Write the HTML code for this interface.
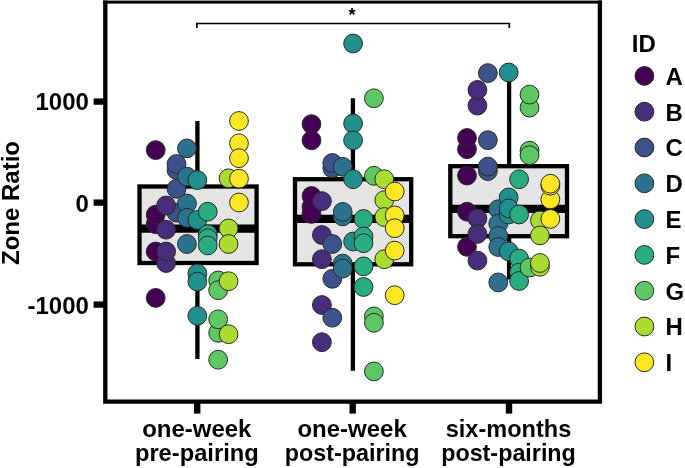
<!DOCTYPE html>
<html><head><meta charset="utf-8"><title>Zone Ratio</title>
<style>html,body{margin:0;padding:0;background:#fff}svg{display:block}text{font-family:"Liberation Sans",Arial,Helvetica,sans-serif;font-weight:bold;fill:#000}</style></head><body>
<svg width="685" height="468" viewBox="0 0 685 468">
<rect width="685" height="468" fill="#fff"/>
<line x1="197.4" y1="121" x2="197.4" y2="186.5" stroke="#000" stroke-width="4.3"/>
<line x1="197.4" y1="263" x2="197.4" y2="359" stroke="#000" stroke-width="4.3"/>
<rect x="139.5" y="186.5" width="117.10000000000002" height="76.5" fill="#E5E5E5" stroke="#000" stroke-width="4.3"/>
<line x1="139.5" y1="228.6" x2="256.6" y2="228.6" stroke="#000" stroke-width="8.2"/>
<line x1="352.9" y1="98.3" x2="352.9" y2="179.2" stroke="#000" stroke-width="4.3"/>
<line x1="352.9" y1="264.3" x2="352.9" y2="370.8" stroke="#000" stroke-width="4.3"/>
<rect x="295" y="179.2" width="116.19999999999999" height="85.10000000000002" fill="#E5E5E5" stroke="#000" stroke-width="4.3"/>
<line x1="295" y1="218.9" x2="411.2" y2="218.9" stroke="#000" stroke-width="8.2"/>
<line x1="509.1" y1="72.5" x2="509.1" y2="166.2" stroke="#000" stroke-width="4.3"/>
<line x1="509.1" y1="236.2" x2="509.1" y2="279.5" stroke="#000" stroke-width="4.3"/>
<rect x="450.3" y="166.2" width="116.69999999999999" height="70.0" fill="#E5E5E5" stroke="#000" stroke-width="4.3"/>
<line x1="450.3" y1="208.8" x2="567" y2="208.8" stroke="#000" stroke-width="8.2"/>
<circle cx="155.7" cy="150.1" r="9.4" fill="#440154" stroke="#2a2a2a" stroke-width="1"/>
<circle cx="155.7" cy="224.2" r="9.4" fill="#440154" stroke="#2a2a2a" stroke-width="1"/>
<circle cx="155.7" cy="214.7" r="9.4" fill="#440154" stroke="#2a2a2a" stroke-width="1"/>
<circle cx="155.7" cy="251.5" r="9.4" fill="#440154" stroke="#2a2a2a" stroke-width="1"/>
<circle cx="155.7" cy="297.9" r="9.4" fill="#440154" stroke="#2a2a2a" stroke-width="1"/>
<circle cx="176.52" cy="212.7" r="9.4" fill="#3B528B" stroke="#2a2a2a" stroke-width="1"/>
<circle cx="166.11" cy="205.5" r="9.4" fill="#472D7B" stroke="#2a2a2a" stroke-width="1"/>
<circle cx="166.11" cy="229.7" r="9.4" fill="#472D7B" stroke="#2a2a2a" stroke-width="1"/>
<circle cx="166.11" cy="263" r="9.4" fill="#472D7B" stroke="#2a2a2a" stroke-width="1"/>
<circle cx="166.11" cy="251.5" r="9.4" fill="#472D7B" stroke="#2a2a2a" stroke-width="1"/>
<circle cx="176.52" cy="170" r="9.4" fill="#3B528B" stroke="#2a2a2a" stroke-width="1"/>
<circle cx="176.52" cy="164" r="9.4" fill="#3B528B" stroke="#2a2a2a" stroke-width="1"/>
<circle cx="176.52" cy="188.8" r="9.4" fill="#3B528B" stroke="#2a2a2a" stroke-width="1"/>
<circle cx="186.93" cy="148.4" r="9.4" fill="#2C728E" stroke="#2a2a2a" stroke-width="1"/>
<circle cx="186.93" cy="176.6" r="9.4" fill="#2C728E" stroke="#2a2a2a" stroke-width="1"/>
<circle cx="186.93" cy="203.5" r="9.4" fill="#2C728E" stroke="#2a2a2a" stroke-width="1"/>
<circle cx="186.93" cy="217.8" r="9.4" fill="#2C728E" stroke="#2a2a2a" stroke-width="1"/>
<circle cx="186.93" cy="244" r="9.4" fill="#2C728E" stroke="#2a2a2a" stroke-width="1"/>
<circle cx="197.34" cy="180.1" r="9.4" fill="#21908C" stroke="#2a2a2a" stroke-width="1"/>
<circle cx="197.34" cy="219.9" r="9.4" fill="#21908C" stroke="#2a2a2a" stroke-width="1"/>
<circle cx="197.34" cy="273.4" r="9.4" fill="#21908C" stroke="#2a2a2a" stroke-width="1"/>
<circle cx="197.34" cy="281.6" r="9.4" fill="#21908C" stroke="#2a2a2a" stroke-width="1"/>
<circle cx="197.34" cy="315.8" r="9.4" fill="#21908C" stroke="#2a2a2a" stroke-width="1"/>
<circle cx="207.75" cy="211.7" r="9.4" fill="#27AD81" stroke="#2a2a2a" stroke-width="1"/>
<circle cx="207.75" cy="234.2" r="9.4" fill="#27AD81" stroke="#2a2a2a" stroke-width="1"/>
<circle cx="207.75" cy="238.2" r="9.4" fill="#27AD81" stroke="#2a2a2a" stroke-width="1"/>
<circle cx="207.75" cy="245.4" r="9.4" fill="#27AD81" stroke="#2a2a2a" stroke-width="1"/>
<circle cx="218.16" cy="280.5" r="9.4" fill="#5DC863" stroke="#2a2a2a" stroke-width="1"/>
<circle cx="218.16" cy="290.2" r="9.4" fill="#5DC863" stroke="#2a2a2a" stroke-width="1"/>
<circle cx="218.16" cy="332.8" r="9.4" fill="#5DC863" stroke="#2a2a2a" stroke-width="1"/>
<circle cx="218.16" cy="319.3" r="9.4" fill="#5DC863" stroke="#2a2a2a" stroke-width="1"/>
<circle cx="218.16" cy="359.7" r="9.4" fill="#5DC863" stroke="#2a2a2a" stroke-width="1"/>
<circle cx="228.57" cy="178.3" r="9.4" fill="#AADC32" stroke="#2a2a2a" stroke-width="1"/>
<circle cx="228.57" cy="228.4" r="9.4" fill="#AADC32" stroke="#2a2a2a" stroke-width="1"/>
<circle cx="228.57" cy="244" r="9.4" fill="#AADC32" stroke="#2a2a2a" stroke-width="1"/>
<circle cx="228.57" cy="281.2" r="9.4" fill="#AADC32" stroke="#2a2a2a" stroke-width="1"/>
<circle cx="228.57" cy="334.2" r="9.4" fill="#AADC32" stroke="#2a2a2a" stroke-width="1"/>
<circle cx="238.98" cy="121" r="9.4" fill="#FDE725" stroke="#2a2a2a" stroke-width="1"/>
<circle cx="238.98" cy="143.3" r="9.4" fill="#FDE725" stroke="#2a2a2a" stroke-width="1"/>
<circle cx="238.98" cy="158.2" r="9.4" fill="#FDE725" stroke="#2a2a2a" stroke-width="1"/>
<circle cx="238.98" cy="178.7" r="9.4" fill="#FDE725" stroke="#2a2a2a" stroke-width="1"/>
<circle cx="238.98" cy="202.5" r="9.4" fill="#FDE725" stroke="#2a2a2a" stroke-width="1"/>
<circle cx="311.5" cy="124.1" r="9.4" fill="#440154" stroke="#2a2a2a" stroke-width="1"/>
<circle cx="311.5" cy="140.3" r="9.4" fill="#440154" stroke="#2a2a2a" stroke-width="1"/>
<circle cx="311.5" cy="206.8" r="9.4" fill="#440154" stroke="#2a2a2a" stroke-width="1"/>
<circle cx="311.5" cy="196" r="9.4" fill="#440154" stroke="#2a2a2a" stroke-width="1"/>
<circle cx="311.5" cy="213.9" r="9.4" fill="#440154" stroke="#2a2a2a" stroke-width="1"/>
<circle cx="321.9" cy="201.1" r="9.4" fill="#472D7B" stroke="#2a2a2a" stroke-width="1"/>
<circle cx="321.9" cy="235" r="9.4" fill="#472D7B" stroke="#2a2a2a" stroke-width="1"/>
<circle cx="321.9" cy="259.2" r="9.4" fill="#472D7B" stroke="#2a2a2a" stroke-width="1"/>
<circle cx="321.9" cy="305" r="9.4" fill="#472D7B" stroke="#2a2a2a" stroke-width="1"/>
<circle cx="321.9" cy="342.2" r="9.4" fill="#472D7B" stroke="#2a2a2a" stroke-width="1"/>
<circle cx="332.3" cy="168.3" r="9.4" fill="#3B528B" stroke="#2a2a2a" stroke-width="1"/>
<circle cx="332.3" cy="163" r="9.4" fill="#3B528B" stroke="#2a2a2a" stroke-width="1"/>
<circle cx="332.3" cy="244" r="9.4" fill="#3B528B" stroke="#2a2a2a" stroke-width="1"/>
<circle cx="332.3" cy="278.8" r="9.4" fill="#3B528B" stroke="#2a2a2a" stroke-width="1"/>
<circle cx="332.3" cy="317.7" r="9.4" fill="#3B528B" stroke="#2a2a2a" stroke-width="1"/>
<circle cx="342.7" cy="166.8" r="9.4" fill="#2C728E" stroke="#2a2a2a" stroke-width="1"/>
<circle cx="342.7" cy="216.4" r="9.4" fill="#2C728E" stroke="#2a2a2a" stroke-width="1"/>
<circle cx="342.7" cy="211.9" r="9.4" fill="#2C728E" stroke="#2a2a2a" stroke-width="1"/>
<circle cx="342.7" cy="263.6" r="9.4" fill="#2C728E" stroke="#2a2a2a" stroke-width="1"/>
<circle cx="342.7" cy="268.6" r="9.4" fill="#2C728E" stroke="#2a2a2a" stroke-width="1"/>
<circle cx="353.1" cy="43.5" r="9.4" fill="#21908C" stroke="#2a2a2a" stroke-width="1"/>
<circle cx="353.1" cy="123.5" r="9.4" fill="#21908C" stroke="#2a2a2a" stroke-width="1"/>
<circle cx="353.1" cy="140.3" r="9.4" fill="#21908C" stroke="#2a2a2a" stroke-width="1"/>
<circle cx="353.1" cy="179.2" r="9.4" fill="#21908C" stroke="#2a2a2a" stroke-width="1"/>
<circle cx="353.1" cy="241.5" r="9.4" fill="#21908C" stroke="#2a2a2a" stroke-width="1"/>
<circle cx="363.5" cy="219" r="9.4" fill="#27AD81" stroke="#2a2a2a" stroke-width="1"/>
<circle cx="363.5" cy="236.4" r="9.4" fill="#27AD81" stroke="#2a2a2a" stroke-width="1"/>
<circle cx="363.5" cy="243.2" r="9.4" fill="#27AD81" stroke="#2a2a2a" stroke-width="1"/>
<circle cx="363.5" cy="266.4" r="9.4" fill="#27AD81" stroke="#2a2a2a" stroke-width="1"/>
<circle cx="363.5" cy="287" r="9.4" fill="#27AD81" stroke="#2a2a2a" stroke-width="1"/>
<circle cx="373.9" cy="98.3" r="9.4" fill="#5DC863" stroke="#2a2a2a" stroke-width="1"/>
<circle cx="373.9" cy="175.8" r="9.4" fill="#5DC863" stroke="#2a2a2a" stroke-width="1"/>
<circle cx="373.9" cy="316.4" r="9.4" fill="#5DC863" stroke="#2a2a2a" stroke-width="1"/>
<circle cx="373.9" cy="322.8" r="9.4" fill="#5DC863" stroke="#2a2a2a" stroke-width="1"/>
<circle cx="373.9" cy="371.4" r="9.4" fill="#5DC863" stroke="#2a2a2a" stroke-width="1"/>
<circle cx="384.3" cy="179.2" r="9.4" fill="#AADC32" stroke="#2a2a2a" stroke-width="1"/>
<circle cx="384.3" cy="200.2" r="9.4" fill="#AADC32" stroke="#2a2a2a" stroke-width="1"/>
<circle cx="384.3" cy="217" r="9.4" fill="#AADC32" stroke="#2a2a2a" stroke-width="1"/>
<circle cx="384.3" cy="259.2" r="9.4" fill="#AADC32" stroke="#2a2a2a" stroke-width="1"/>
<circle cx="394.7" cy="191.5" r="9.4" fill="#FDE725" stroke="#2a2a2a" stroke-width="1"/>
<circle cx="394.7" cy="215.4" r="9.4" fill="#FDE725" stroke="#2a2a2a" stroke-width="1"/>
<circle cx="394.7" cy="228.2" r="9.4" fill="#FDE725" stroke="#2a2a2a" stroke-width="1"/>
<circle cx="394.7" cy="250.6" r="9.4" fill="#FDE725" stroke="#2a2a2a" stroke-width="1"/>
<circle cx="394.7" cy="295.2" r="9.4" fill="#FDE725" stroke="#2a2a2a" stroke-width="1"/>
<circle cx="467.0" cy="149.2" r="9.4" fill="#440154" stroke="#2a2a2a" stroke-width="1"/>
<circle cx="467.0" cy="138" r="9.4" fill="#440154" stroke="#2a2a2a" stroke-width="1"/>
<circle cx="467.0" cy="175.6" r="9.4" fill="#440154" stroke="#2a2a2a" stroke-width="1"/>
<circle cx="467.0" cy="211.7" r="9.4" fill="#440154" stroke="#2a2a2a" stroke-width="1"/>
<circle cx="467.0" cy="246.8" r="9.4" fill="#440154" stroke="#2a2a2a" stroke-width="1"/>
<circle cx="477.42" cy="105.6" r="9.4" fill="#472D7B" stroke="#2a2a2a" stroke-width="1"/>
<circle cx="477.42" cy="89.9" r="9.4" fill="#472D7B" stroke="#2a2a2a" stroke-width="1"/>
<circle cx="477.42" cy="218.5" r="9.4" fill="#472D7B" stroke="#2a2a2a" stroke-width="1"/>
<circle cx="477.42" cy="233.9" r="9.4" fill="#472D7B" stroke="#2a2a2a" stroke-width="1"/>
<circle cx="477.42" cy="260.6" r="9.4" fill="#472D7B" stroke="#2a2a2a" stroke-width="1"/>
<circle cx="487.84" cy="73.1" r="9.4" fill="#3B528B" stroke="#2a2a2a" stroke-width="1"/>
<circle cx="487.84" cy="140.2" r="9.4" fill="#3B528B" stroke="#2a2a2a" stroke-width="1"/>
<circle cx="487.84" cy="171.1" r="9.4" fill="#3B528B" stroke="#2a2a2a" stroke-width="1"/>
<circle cx="487.84" cy="166.6" r="9.4" fill="#3B528B" stroke="#2a2a2a" stroke-width="1"/>
<circle cx="498.26" cy="209.2" r="9.4" fill="#2C728E" stroke="#2a2a2a" stroke-width="1"/>
<circle cx="498.26" cy="223.7" r="9.4" fill="#2C728E" stroke="#2a2a2a" stroke-width="1"/>
<circle cx="498.26" cy="236" r="9.4" fill="#2C728E" stroke="#2a2a2a" stroke-width="1"/>
<circle cx="498.26" cy="247" r="9.4" fill="#2C728E" stroke="#2a2a2a" stroke-width="1"/>
<circle cx="498.26" cy="282.4" r="9.4" fill="#2C728E" stroke="#2a2a2a" stroke-width="1"/>
<circle cx="508.68" cy="72.5" r="9.4" fill="#21908C" stroke="#2a2a2a" stroke-width="1"/>
<circle cx="508.68" cy="197.4" r="9.4" fill="#21908C" stroke="#2a2a2a" stroke-width="1"/>
<circle cx="508.68" cy="214.5" r="9.4" fill="#21908C" stroke="#2a2a2a" stroke-width="1"/>
<circle cx="508.68" cy="208.4" r="9.4" fill="#21908C" stroke="#2a2a2a" stroke-width="1"/>
<circle cx="508.68" cy="251.4" r="9.4" fill="#21908C" stroke="#2a2a2a" stroke-width="1"/>
<circle cx="519.1" cy="179.3" r="9.4" fill="#27AD81" stroke="#2a2a2a" stroke-width="1"/>
<circle cx="519.1" cy="214.5" r="9.4" fill="#27AD81" stroke="#2a2a2a" stroke-width="1"/>
<circle cx="519.1" cy="258.6" r="9.4" fill="#27AD81" stroke="#2a2a2a" stroke-width="1"/>
<circle cx="519.1" cy="272.6" r="9.4" fill="#27AD81" stroke="#2a2a2a" stroke-width="1"/>
<circle cx="519.1" cy="281" r="9.4" fill="#27AD81" stroke="#2a2a2a" stroke-width="1"/>
<circle cx="529.52" cy="107.6" r="9.4" fill="#5DC863" stroke="#2a2a2a" stroke-width="1"/>
<circle cx="529.52" cy="94.6" r="9.4" fill="#5DC863" stroke="#2a2a2a" stroke-width="1"/>
<circle cx="529.52" cy="150.7" r="9.4" fill="#5DC863" stroke="#2a2a2a" stroke-width="1"/>
<circle cx="529.52" cy="155.2" r="9.4" fill="#5DC863" stroke="#2a2a2a" stroke-width="1"/>
<circle cx="529.52" cy="267.5" r="9.4" fill="#5DC863" stroke="#2a2a2a" stroke-width="1"/>
<circle cx="539.94" cy="220.4" r="9.4" fill="#AADC32" stroke="#2a2a2a" stroke-width="1"/>
<circle cx="539.94" cy="235.4" r="9.4" fill="#AADC32" stroke="#2a2a2a" stroke-width="1"/>
<circle cx="539.94" cy="266.8" r="9.4" fill="#AADC32" stroke="#2a2a2a" stroke-width="1"/>
<circle cx="539.94" cy="263" r="9.4" fill="#AADC32" stroke="#2a2a2a" stroke-width="1"/>
<circle cx="550.36" cy="199.4" r="9.4" fill="#FDE725" stroke="#2a2a2a" stroke-width="1"/>
<circle cx="550.36" cy="185.7" r="9.4" fill="#FDE725" stroke="#2a2a2a" stroke-width="1"/>
<circle cx="550.36" cy="183.7" r="9.4" fill="#FDE725" stroke="#2a2a2a" stroke-width="1"/>
<circle cx="550.36" cy="218.9" r="9.4" fill="#FDE725" stroke="#2a2a2a" stroke-width="1"/>
<path d="M196.9 28 V23.5 H509.3 V28" fill="none" stroke="#000" stroke-width="1.7"/>
<text x="351.9" y="21.3" font-size="18" text-anchor="middle">*</text>
<path d="M105.3 0.4 V401.7 H599.9 V0.4" fill="none" stroke="#000" stroke-width="4.3"/>
<rect x="103.15" y="0.6" width="498.9" height="3.0" fill="#000"/>
<rect x="93.6" y="98.45" width="10.4" height="6.3" fill="#000"/>
<rect x="93.6" y="199.45" width="10.4" height="6.3" fill="#000"/>
<rect x="93.6" y="301.45" width="10.4" height="6.3" fill="#000"/>
<rect x="194.0" y="402" width="6.4" height="11.6" fill="#000"/>
<rect x="349.5" y="402" width="6.4" height="11.6" fill="#000"/>
<rect x="505.8" y="402" width="6.4" height="11.6" fill="#000"/>
<text transform="translate(88.9,109.7) scale(1.0345,1)" font-size="23.2" text-anchor="end">1000</text>
<text transform="translate(88.9,212.1) scale(1.0345,1)" font-size="23.2" text-anchor="end">0</text>
<text transform="translate(88.9,313.8) scale(1.0345,1)" font-size="23.2" text-anchor="end">-1000</text>
<text transform="translate(19.0,203) rotate(-90) scale(1.0345,1)" font-size="23.2" text-anchor="middle">Zone Ratio</text>
<text transform="translate(196.8,436.5) scale(1.0345,1)" font-size="23.2" text-anchor="middle">one-week</text>
<text transform="translate(196.8,460.8) scale(1.0221,1)" font-size="23.2" text-anchor="middle">pre-pairing</text>
<text transform="translate(352.1,436.5) scale(1.0345,1)" font-size="23.2" text-anchor="middle">one-week</text>
<text transform="translate(352.1,460.8) scale(1.0054,1)" font-size="23.2" text-anchor="middle">post-pairing</text>
<text transform="translate(508.5,436.5) scale(1.0151,1)" font-size="23.2" text-anchor="middle">six-months</text>
<text transform="translate(508.5,460.8) scale(1.0054,1)" font-size="23.2" text-anchor="middle">post-pairing</text>
<text transform="translate(631.8,52.1) scale(1.0345,1)" font-size="23.2" text-anchor="start">ID</text>
<circle cx="644.4" cy="75.9" r="9.4" fill="#440154" stroke="#2a2a2a" stroke-width="1"/>
<text transform="translate(665.4,84.8) scale(1.0345,1)" font-size="23.2" text-anchor="start">A</text>
<circle cx="644.4" cy="111.7" r="9.4" fill="#472D7B" stroke="#2a2a2a" stroke-width="1"/>
<text transform="translate(665.4,120.6) scale(1.0345,1)" font-size="23.2" text-anchor="start">B</text>
<circle cx="644.4" cy="147.5" r="9.4" fill="#3B528B" stroke="#2a2a2a" stroke-width="1"/>
<text transform="translate(665.4,156.4) scale(1.0345,1)" font-size="23.2" text-anchor="start">C</text>
<circle cx="644.4" cy="183.3" r="9.4" fill="#2C728E" stroke="#2a2a2a" stroke-width="1"/>
<text transform="translate(665.4,192.2) scale(1.0345,1)" font-size="23.2" text-anchor="start">D</text>
<circle cx="644.4" cy="219.1" r="9.4" fill="#21908C" stroke="#2a2a2a" stroke-width="1"/>
<text transform="translate(665.4,228.0) scale(1.0345,1)" font-size="23.2" text-anchor="start">E</text>
<circle cx="644.4" cy="254.9" r="9.4" fill="#27AD81" stroke="#2a2a2a" stroke-width="1"/>
<text transform="translate(665.4,263.8) scale(1.0345,1)" font-size="23.2" text-anchor="start">F</text>
<circle cx="644.4" cy="290.7" r="9.4" fill="#5DC863" stroke="#2a2a2a" stroke-width="1"/>
<text transform="translate(665.4,299.6) scale(1.0345,1)" font-size="23.2" text-anchor="start">G</text>
<circle cx="644.4" cy="326.5" r="9.4" fill="#AADC32" stroke="#2a2a2a" stroke-width="1"/>
<text transform="translate(665.4,335.4) scale(1.0345,1)" font-size="23.2" text-anchor="start">H</text>
<circle cx="644.4" cy="362.3" r="9.4" fill="#FDE725" stroke="#2a2a2a" stroke-width="1"/>
<text transform="translate(665.4,371.2) scale(1.0345,1)" font-size="23.2" text-anchor="start">I</text>
</svg></body></html>
